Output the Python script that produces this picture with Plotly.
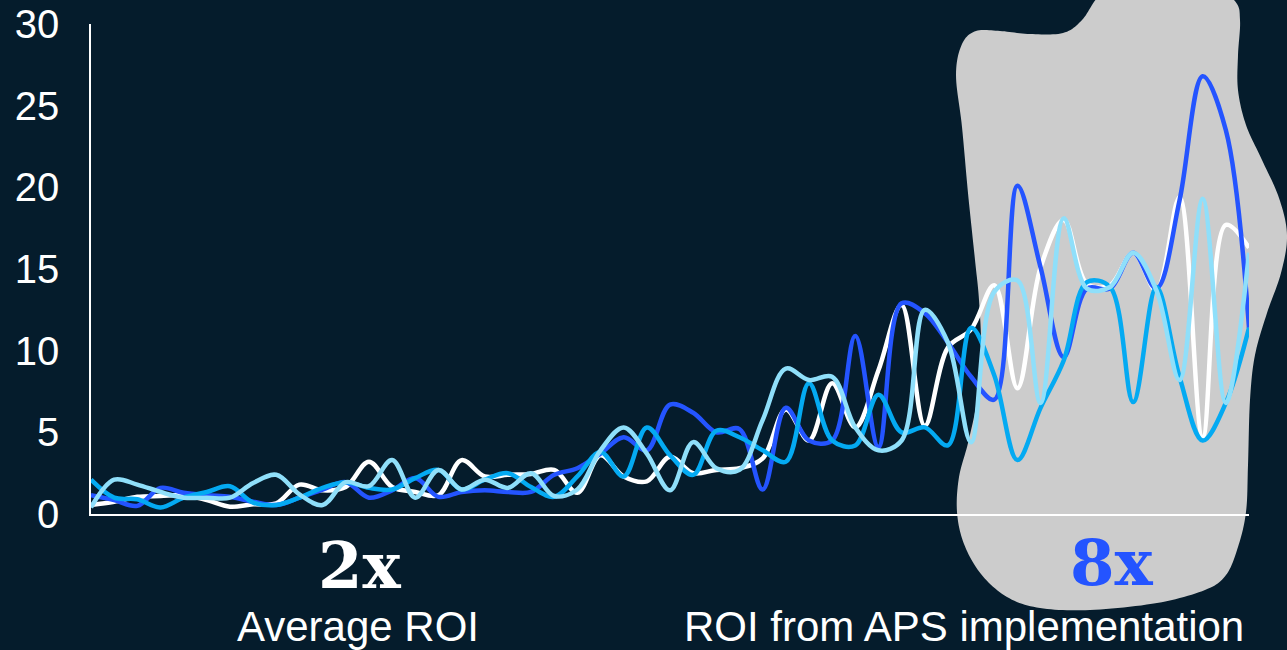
import plotly.graph_objects as go

# ---------------- data ----------------
periods = list(range(51))

white_series = [0.55, 0.75, 1.05, 1.1, 1.15, 0.85, 0.45, 0.6, 0.65, 1.8,
                1.45, 1.65, 3.2, 1.65, 1.35, 1.15, 3.3, 2.3, 2.4, 2.45,
                2.7, 1.3, 3.6, 2.3, 2.0, 3.5, 2.5, 2.7, 2.8, 3.4,
                6.4, 4.5, 8.0, 5.3, 8.8, 12.8, 5.4, 10.2, 11.3, 14.0,
                7.7, 15.1, 18.0, 14.1, 14.0, 16.0, 13.7, 19.4, 4.7, 17.7,
                16.3]

blue_series = [1.15, 0.85, 0.5, 1.6, 1.3, 1.15, 1.05, 0.75, 0.55, 1.0,
               1.5, 1.95, 1.0, 1.45, 2.2, 1.05, 1.35, 1.45, 1.35, 1.35,
               2.4, 2.8, 3.7, 4.7, 3.9, 6.7, 6.2, 5.0, 5.2, 1.5,
               6.5, 4.5, 4.5, 10.9, 4.1, 12.9, 12.3, 10.5, 8.4, 7.0,
               20.1, 15.1, 9.6, 13.8, 13.8, 16.0, 13.8, 19.2, 26.8, 23.5,
               11.4]

mid_blue_series = [2.1, 1.0, 0.9, 0.4, 1.0, 1.35, 1.7, 0.7, 0.55, 1.0,
                   1.6, 1.95, 1.6, 1.5, 2.2, 2.7, 1.5, 2.1, 2.5, 1.65,
                   1.05, 2.3, 3.8, 2.3, 5.3, 3.6, 2.4, 5.1, 4.7, 3.9,
                   3.2, 8.0, 4.5, 4.2, 7.3, 5.0, 5.3, 4.2, 11.4, 8.5,
                   3.3, 6.5, 9.4, 14.2, 13.9, 6.85, 13.9, 8.4, 4.5, 6.8,
                   11.4]

light_blue_series = [0.4, 2.1, 1.8, 1.35, 1.0, 1.0, 1.0, 1.9, 2.4, 1.2,
                     0.55, 1.95, 1.7, 3.3, 1.0, 2.7, 1.5, 2.1, 1.6, 2.5,
                     1.1, 1.5, 3.9, 5.3, 3.7, 1.45, 4.4, 2.8, 2.7, 5.75,
                     8.9, 8.2, 8.4, 5.3, 3.9, 4.5, 12.5, 10.5, 4.4, 13.6,
                     14.3, 6.8, 18.1, 13.8, 13.9, 16.0, 13.7, 8.2, 19.3, 6.8,
                     16.0]

y_ticks = [0, 5, 10, 15, 20, 25, 30]

series = [
    ("White", white_series, "#ffffff"),
    ("Blue", blue_series, "#2454ff"),
    ("Mid blue", mid_blue_series, "#04aaf2"),
    ("Light blue", light_blue_series, "#8fdffa"),
]

# ---------------- layout geometry ----------------
W, H = 1287, 650
ML, MR, MT, MB = 91, 38, 24, 136
PW, PH = W - ML - MR, H - MT - MB
BG = "#051c2c"


def px_to_paper(px, py):
    return (px - ML) / PW, (H - MB - py) / PH


def smooth_closed(points, steps=12):
    """Catmull-Rom closed curve through decoration outline points."""
    n = len(points)
    out = []
    for i in range(n):
        p0 = points[(i - 1) % n]
        p1 = points[i]
        p2 = points[(i + 1) % n]
        p3 = points[(i + 2) % n]
        for s in range(steps):
            t = s / steps
            t2, t3 = t * t, t * t * t
            x = 0.5 * ((2 * p1[0]) + (-p0[0] + p2[0]) * t +
                       (2 * p0[0] - 5 * p1[0] + 4 * p2[0] - p3[0]) * t2 +
                       (-p0[0] + 3 * p1[0] - 3 * p2[0] + p3[0]) * t3)
            y = 0.5 * ((2 * p1[1]) + (-p0[1] + p2[1]) * t +
                       (2 * p0[1] - 5 * p1[1] + 4 * p2[1] - p3[1]) * t2 +
                       (-p0[1] + 3 * p1[1] - 3 * p2[1] + p3[1]) * t3)
            out.append((x, y))
    return out


# outline of the grey highlight blob (screen pixels)
blob_outline = [
    (956, 75), (962, 44), (976, 31), (1000, 31), (1030, 34), (1063, 33),
    (1082, 20), (1097, -2), (1120, -25), (1200, -25), (1234, 0),
    (1240, 20), (1238, 55), (1238, 90), (1246, 125), (1262, 160),
    (1279, 198), (1287, 235), (1281, 273), (1267, 313), (1255, 355),
    (1250, 400), (1248, 465), (1246, 512), (1238, 547), (1226, 575),
    (1205, 590), (1157, 603), (1090, 610), (1040, 608), (1007, 597),
    (981, 574), (964, 544), (957, 512), (959, 477), (968, 443),
    (977, 400), (981, 350), (979, 300), (975, 260), (968, 193),
    (962, 127),
]
pts = smooth_closed(blob_outline)
path = ""
for k, (px, py) in enumerate(pts):
    xp, yp = px_to_paper(px, py)
    path += ("M" if k == 0 else "L") + f"{xp:.5f},{yp:.5f} "
path += "Z"

fig = go.Figure()
for name, vals, color in series:
    fig.add_trace(go.Scatter(
        x=periods, y=vals, name=name, mode="lines",
        line=dict(color=color, width=4.5, shape="spline", smoothing=1.0),
        hoverinfo="skip",
    ))

fig.add_shape(type="path", path=path, xref="paper", yref="paper",
              fillcolor="#cccccc", line=dict(width=0), layer="below")

fig.update_layout(
    width=W, height=H,
    margin=dict(l=ML, r=MR, t=MT, b=MB, pad=0, autoexpand=False),
    paper_bgcolor=BG, plot_bgcolor="rgba(0,0,0,0)",
    showlegend=False,
    font=dict(family="Liberation Sans, Arial, sans-serif", color="#ffffff"),
    xaxis=dict(range=[0, 50], showgrid=False, zeroline=False,
               showline=True, linecolor="#ffffff", linewidth=2,
               showticklabels=False, ticks="", automargin=False),
    yaxis=dict(range=[0, 30], tickvals=y_ticks, showgrid=False,
               zeroline=False, showline=True, linecolor="#ffffff",
               linewidth=1.5, ticks="", ticklabelstandoff=22,
               automargin=False,
               tickfont=dict(size=40, color="#ffffff",
                             family="Liberation Sans, Arial, sans-serif")),
)

serif = "DejaVu Serif, Liberation Serif, serif"
fig.add_annotation(text="<b>2x</b>", x=0.2323, y=-0.106, xref="paper",
                   yref="paper", showarrow=False, xanchor="center",
                   yanchor="middle",
                   font=dict(family=serif, size=64, color="#ffffff"))
fig.add_annotation(text="<b>8x</b>", x=0.8817, y=-0.098, xref="paper",
                   yref="paper", showarrow=False, xanchor="center",
                   yanchor="middle",
                   font=dict(family=serif, size=64, color="#2454ff"))
fig.add_annotation(text="Average ROI", x=0.2306, y=-0.230, xref="paper",
                   yref="paper", showarrow=False, xanchor="center",
                   yanchor="middle",
                   font=dict(size=42, color="#ffffff"))
fig.add_annotation(text="ROI from APS implementation", x=0.7543, y=-0.230,
                   xref="paper", yref="paper", showarrow=False,
                   xanchor="center", yanchor="middle",
                   font=dict(size=42, color="#ffffff"))

fig.write_html("out.html")
